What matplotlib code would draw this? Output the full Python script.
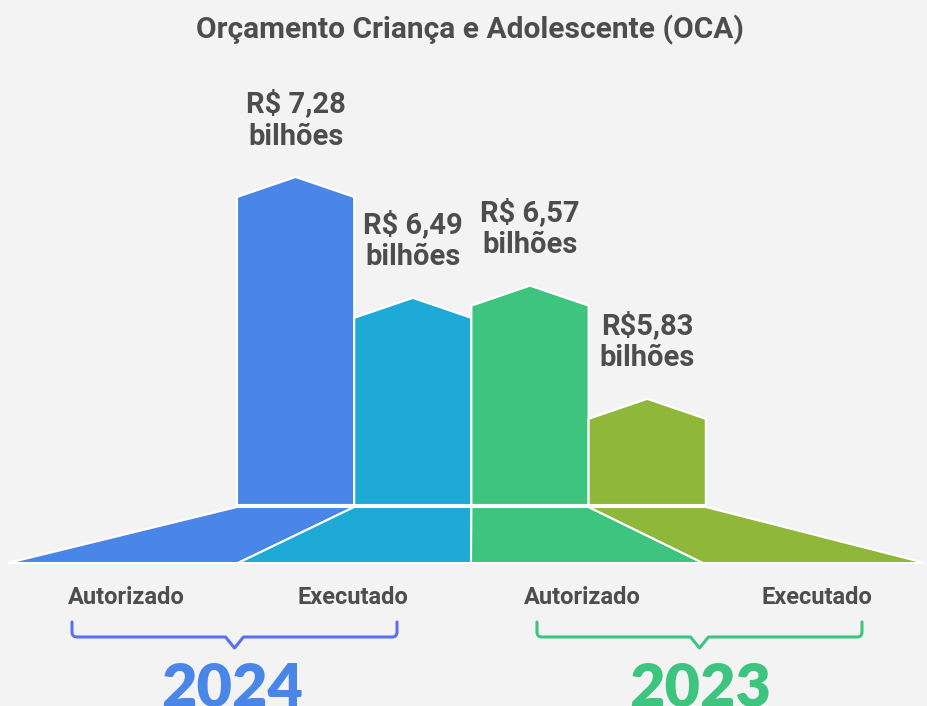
import matplotlib
matplotlib.use("Agg")
import matplotlib.pyplot as plt
from matplotlib.patches import Polygon, PathPatch
from matplotlib.path import Path

# dados
categorias = ["Autorizado", "Executado", "Autorizado", "Executado"]
valores = [7.28, 6.49, 6.57, 5.83]
rotulos = ["R$ 7,28\nbilhões", "R$ 6,49\nbilhões", "R$ 6,57\nbilhões", "R$5,83\nbilhões"]
anos = ["2024", "2023"]
cores = ["#4a86e8", "#1eaad6", "#3dc47e", "#8fb73a"]
cores_ano = ["#4a86e8", "#3dc47e"]
cores_chave = ["#5b6ff2", "#3dc47e"]

BG = "#f3f3f3"
TXT = "#4d4d4d"

# escala: y em bilhões, x em pixels
base_v = 5.267      # valor na base das barras
ppu = 153.0         # pixels por bilhão
bar_bottom_px = 505


def py(p):
    # pixel vertical -> unidade de valor
    return base_v + (bar_bottom_px - p) / ppu


fig = plt.figure(figsize=(9.27, 7.06), dpi=100)
fig.patch.set_facecolor(BG)
ax = fig.add_axes([0, 0, 1, 1])
ax.set_facecolor(BG)
ax.set_xlim(0, 927)
ax.set_ylim(py(706), py(0))
ax.axis('off')

bar_left0 = 237
bar_w = 117.2
peak = 20 / ppu

# barras pentagonais
for i, v in enumerate(valores):
    l = bar_left0 + i * bar_w
    r = l + bar_w
    c = (l + r) / 2
    pts = [(l, base_v), (l, v), (c, v + peak), (r, v), (r, base_v)]
    ax.add_patch(Polygon(pts, closed=True, facecolor=cores[i], edgecolor='white', lw=1.5))
    ax.annotate(rotulos[i], (c, v + peak), xytext=(0, 19), textcoords='offset points',
                ha='center', va='bottom', fontsize=21, fontweight='bold', color=TXT,
                family='Roboto', linespacing=1.2)

# base em trapézio
topo = py(507)
fundo = py(563)
xs_fundo = [8, 238, 471, 703, 925]
for i in range(4):
    l = bar_left0 + i * bar_w
    r = l + bar_w
    pts = [(l, topo), (r, topo), (xs_fundo[i + 1], fundo), (xs_fundo[i], fundo)]
    ax.add_patch(Polygon(pts, closed=True, facecolor=cores[i], edgecolor='white', lw=1.5))

# categorias
x_cat = [126, 353, 582, 817]
for x, t in zip(x_cat, categorias):
    ax.text(x, py(598), t, ha='center', va='center', fontsize=17, fontweight='bold',
            color=TXT, family='Roboto')

# chaves
def chave(x0, x1, cor):
    y_top, y_mid, y_tip = py(622), py(637), py(648)
    xm = (x0 + x1) / 2
    r = 5
    rv = r / ppu
    verts = [(x0, y_top), (x0, y_mid + rv), (x0, y_mid), (x0 + r, y_mid),
             (xm - 9, y_mid), (xm, y_tip), (xm + 9, y_mid),
             (x1 - r, y_mid), (x1, y_mid), (x1, y_mid + rv), (x1, y_top)]
    codes = [Path.MOVETO, Path.LINETO, Path.CURVE3, Path.CURVE3,
             Path.LINETO, Path.LINETO, Path.LINETO,
             Path.LINETO, Path.CURVE3, Path.CURVE3, Path.LINETO]
    ax.add_patch(PathPatch(Path(verts, codes), facecolor='none', edgecolor=cor,
                           lw=2.2, capstyle='round', joinstyle='round'))

chave(72, 397, cores_chave[0])
chave(537, 862, cores_chave[1])

# anos
for x, ano, cor in zip([232, 700], anos, cores_ano):
    ax.text(x, py(689), ano, ha='center', va='center', fontsize=44, fontweight='heavy',
            color=cor, family='Lato')

# título
ax.text(470, py(30), "Orçamento Criança e Adolescente (OCA)", ha='center', va='center',
        fontsize=21.5, fontweight='bold', color=TXT, family='Roboto')

plt.savefig("out.png", dpi=100, facecolor=BG)
